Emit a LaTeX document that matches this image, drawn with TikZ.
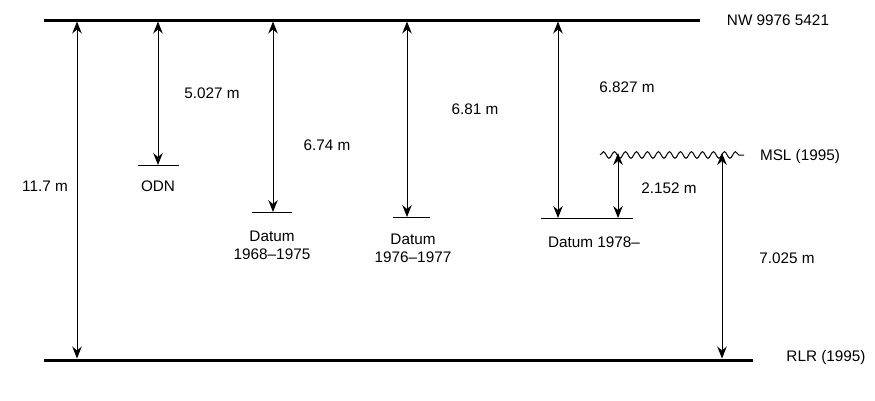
\documentclass[tikz,border=0pt]{standalone}
\usepackage{fontspec}
\setmainfont{Liberation Sans}
\usetikzlibrary{arrows.meta,decorations.pathmorphing}
\begin{document}
\begin{tikzpicture}[x=1pt,y=-1pt,
  thickline/.style={line width=3pt},
  datumline/.style={line width=1pt},
  dim/.style={line width=1pt,{Stealth[length=12pt,width=9.5pt,inset=4pt]}-{Stealth[length=12pt,width=9.5pt,inset=4pt]}},
  lbl/.style={font=\fontsize{15.3}{18}\selectfont,inner sep=0pt,align=center},
  wave/.style={line width=1pt,decorate,decoration={snake,amplitude=3.3pt,segment length=11pt}}]
\useasboundingbox (0,0) rectangle (875,400);
% levels
\coordinate (nwL) at (44,20); \coordinate (nwR) at (700,20);
\coordinate (rlrL) at (44,360); \coordinate (rlrR) at (753,360);
\draw[thickline] (nwL) -- (nwR);
\draw[thickline] (rlrL) -- (rlrR);
\node[lbl] (nw) at (778,20) {NW 9976 5421};
\node[lbl] (rlr) at (826,358) {RLR (1995)};
% MSL
\coordinate (mslL) at (600,155); \coordinate (mslR) at (744,155);
\draw[wave] (mslL) -- (mslR);
\node[lbl] (msl) at (800,157) {MSL (1995)};
% datum lines
\coordinate (odnL) at (138,165); \coordinate (odnR) at (179,165);
\draw[datumline] (odnL) -- (odnR);
\coordinate (d68L) at (252,212); \coordinate (d68R) at (292,212);
\draw[datumline] (d68L) -- (d68R);
\coordinate (d76L) at (393,217); \coordinate (d76R) at (430,217);
\draw[datumline] (d76L) -- (d76R);
\coordinate (d78L) at (541,218); \coordinate (d78R) at (633,218);
\draw[datumline] (d78L) -- (d78R);
% arrow end points
\coordinate (a1t) at (77,21.5); \coordinate (a1b) at (77,358.5);
\coordinate (a2t) at (158,21.5); \coordinate (a2b) at (158,165);
\coordinate (a3t) at (273,21.5); \coordinate (a3b) at (273,212);
\coordinate (a4t) at (407,21.5); \coordinate (a4b) at (407,217);
\coordinate (a5t) at (558,21.5); \coordinate (a5b) at (558,218);
\coordinate (a6t) at (618,153); \coordinate (a6b) at (618,218);
\coordinate (a7t) at (722,153); \coordinate (a7b) at (722,358.5);
\draw[dim] (a1t) -- (a1b);
\draw[dim] (a2t) -- (a2b);
\draw[dim] (a3t) -- (a3b);
\draw[dim] (a4t) -- (a4b);
\draw[dim] (a5t) -- (a5b);
\draw[dim] (a6t) -- (a6b);
\draw[dim] (a7t) -- (a7b);
% labels
\node[lbl] (l117) at (45,186) {11.7 m};
\node[lbl] (l5027) at (212,93) {5.027 m};
\node[lbl] (odn) at (158,186) {ODN};
\node[lbl] (l674) at (327,145) {6.74 m};
\node[lbl] (d68) at (272,245) {Datum\\1968\textendash1975};
\node[lbl] (l681) at (475,109) {6.81 m};
\node[lbl] (d76) at (413,248) {Datum\\1976\textendash1977};
\node[lbl] (l6827) at (627,87) {6.827 m};
\node[lbl] (d78) at (594,242) {Datum 1978\textendash};
\node[lbl] (l2152) at (669,188) {2.152 m};
\node[lbl] (l7025) at (787,258) {7.025 m};
\end{tikzpicture}
\end{document}
